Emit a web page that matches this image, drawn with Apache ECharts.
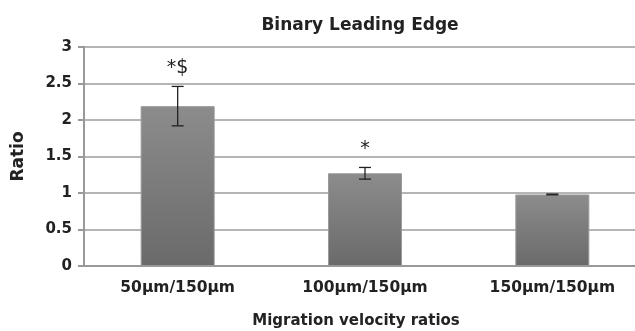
<!DOCTYPE html>
<html><head><meta charset="utf-8">
<script src="https://cdn.jsdelivr.net/npm/echarts@6/dist/echarts.min.js"></script>
<style>html,body{margin:0;padding:0;background:#fff}#c{width:635px;height:331px}</style>
</head><body><div id="c"></div>
<script>
const categories = ['50µm/150µm', '100µm/150µm', '150µm/150µm'];
const ratios = [2.19, 1.27, 0.98];
const errors = [0.27, 0.08, 0.005];
const annotations = ['*$', '*', ''];

const chart = echarts.init(document.getElementById('c'), null, {renderer: 'canvas'});
const font = 'DejaVu Sans, sans-serif';
chart.setOption({
  animation: false,
  title: {text: 'Binary Leading Edge', left: 355, top: 12, textAlign: 'center',
    textStyle: {fontFamily: font, fontWeight: 'bold', fontSize: 17, color: '#222'}},
  grid: {left: 84, top: 47, width: 562, height: 219, containLabel: false, outerBoundsMode: 'none'},
  xAxis: {type: 'category', data: categories,
    name: 'Migration velocity ratios', nameLocation: 'middle', nameGap: 48,
    nameTextStyle: {fontFamily: font, fontWeight: 'bold', fontSize: 15, color: '#222',
      padding: [0, 18, 0, 0]},
    axisLine: {lineStyle: {color: '#999', width: 2}}, axisTick: {show: false},
    axisLabel: {fontFamily: font, fontWeight: 'bold', fontSize: 15.5, color: '#222', margin: 14}},
  yAxis: {type: 'value', min: 0, max: 3, interval: 0.5,
    name: 'Ratio', nameLocation: 'middle', nameGap: 57, nameRotate: 90,
    nameTextStyle: {fontFamily: font, fontWeight: 'bold', fontSize: 17, color: '#222'},
    axisLine: {show: true, lineStyle: {color: '#999', width: 2}},
    axisTick: {show: true, length: 6, lineStyle: {color: '#999', width: 2}},
    splitLine: {lineStyle: {color: '#9c9c9c', width: 1.5}},
    axisLabel: {fontFamily: font, fontWeight: 'bold', fontSize: 15, color: '#222', margin: 12,
      formatter: v => String(v)}},
  series: [
    {type: 'bar', data: ratios, barWidth: 74,
      itemStyle: {color: new echarts.graphic.LinearGradient(0, 0, 0, 1, [
        {offset: 0, color: '#8c8c8c'}, {offset: 1, color: '#6a6a6a'}]),
        borderColor: '#9a9a9a', borderWidth: 1}},
    {type: 'custom', data: ratios.map((v, i) => [i, v, errors[i]]),
      renderItem: function (params, api) {
        const i = api.value(0), v = api.value(1), e = api.value(2);
        const top = api.coord([i, v + e]);
        const bot = api.coord([i, v - e]);
        const hw = 6;
        const children = [
          {type: 'line', shape: {x1: top[0], y1: top[1], x2: bot[0], y2: bot[1]}, style: {stroke: '#222', lineWidth: 1.3}},
          {type: 'line', shape: {x1: top[0] - hw, y1: top[1], x2: top[0] + hw, y2: top[1]}, style: {stroke: '#222', lineWidth: 1.3}},
          {type: 'line', shape: {x1: bot[0] - hw, y1: bot[1], x2: bot[0] + hw, y2: bot[1]}, style: {stroke: '#222', lineWidth: 1.3}}
        ];
        const txt = annotations[params.dataIndex];
        if (txt) children.push({type: 'text', x: top[0], y: top[1] - 18,
          style: {text: txt, fill: '#222', font: '19px ' + font, textAlign: 'center', textVerticalAlign: 'middle'}});
        return {type: 'group', children: children};
      }, z: 5}
  ]
});
</script></body></html>
